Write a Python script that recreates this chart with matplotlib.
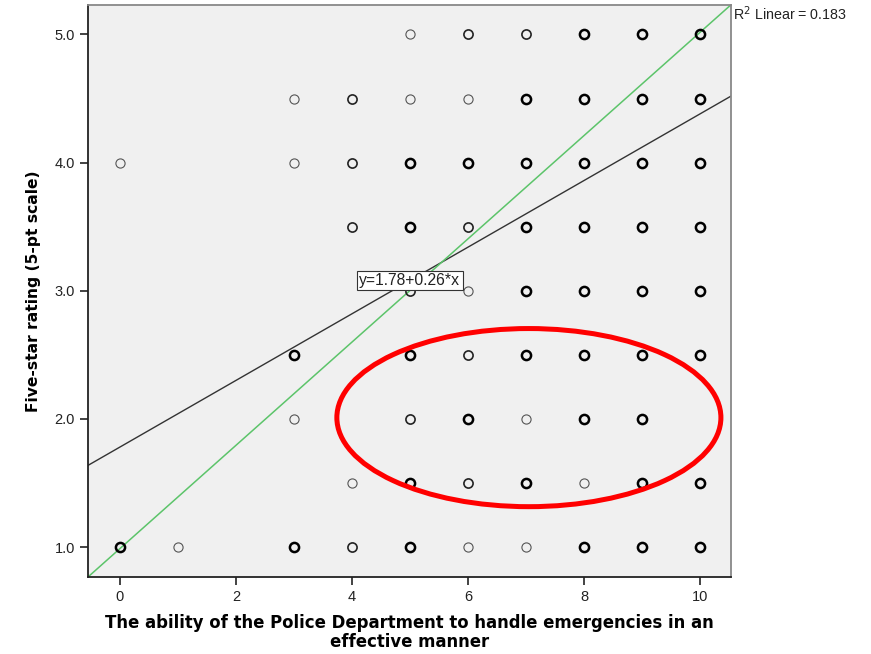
import matplotlib.pyplot as plt
from matplotlib.patches import Ellipse

# emergency handling score (x), five-star rating (y), overlap weight (1 thin .. 3 bold)
x_vals = [5, 6, 7, 8, 9, 10,
          3, 4, 5, 6, 7, 8, 9, 10,
          0, 3, 4, 5, 6, 7, 8, 9, 10,
          4, 5, 6, 7, 8, 9, 10,
          5, 6, 7, 8, 9, 10,
          3, 5, 6, 7, 8, 9, 10,
          3, 5, 6, 7, 8, 9,
          4, 5, 6, 7, 8, 9, 10,
          0, 1, 3, 4, 5, 6, 7, 8, 9, 10]
y_vals = [5.0] * 6 + [4.5] * 8 + [4.0] * 9 + [3.5] * 7 + [3.0] * 6 + \
         [2.5] * 7 + [2.0] * 6 + [1.5] * 7 + [1.0] * 10
weights = [1, 2, 2, 3, 3, 3,
           1, 2, 1, 1, 3, 3, 3, 3,
           1, 1, 2, 3, 3, 3, 3, 3, 3,
           2, 3, 2, 3, 3, 3, 3,
           2, 1, 3, 3, 3, 3,
           3, 3, 2, 3, 3, 3, 3,
           1, 2, 3, 1, 3, 3,
           1, 3, 2, 3, 1, 3, 3,
           3, 1, 3, 2, 3, 1, 1, 3, 3, 3]

intercept = 1.78
slope = 0.26
r2 = 0.183

xmin, xmax = -0.55, 10.53
ymin, ymax = 0.766, 5.23

fig = plt.figure(figsize=(8.71, 6.54), dpi=100)
ax = fig.add_axes([0.101, 0.1177, 0.738, 0.8747])
ax.set_facecolor('#f0f0f0')

# markers, drawn by overlap weight
styles = {1: ('#555555', 0.8), 2: ('#222222', 1.2), 3: ('#000000', 1.8)}
for w, (col, lw) in styles.items():
    xs = [x for x, ww in zip(x_vals, weights) if ww == w]
    ys = [y for y, ww in zip(y_vals, weights) if ww == w]
    ax.plot(xs, ys, 'o', ms=6.6, mfc='none', mec=col, mew=lw, zorder=3)

# fit line
ax.plot([xmin, xmax], [intercept + slope * xmin, intercept + slope * xmax],
        color='#333333', lw=1.0, zorder=2)
# green reference line (diagonal)
ax.plot([0, 1], [0, 1], transform=ax.transAxes, color='#5cc46a', lw=1.1, zorder=2)

ax.text(5.0, 3.08, 'y=1.78+0.26*x', ha='center', va='center', fontsize=11.3,
        family='Liberation Sans', color='#222222', zorder=5,
        bbox=dict(boxstyle='square,pad=0.15', fc='white', ec='#333333', lw=0.8))
ax.text(1.003, 0.985, 'R$^2$ Linear = %.3f' % r2, transform=ax.transAxes,
        ha='left', va='center', fontsize=10.3, family='Liberation Sans',
        color='#222222')

ax.add_patch(Ellipse((7.05, 2.01), 6.62, 1.39, fill=False, ec='#ff0000',
                     lw=3.6, zorder=6))

ax.set_xlim(xmin, xmax)
ax.set_ylim(ymin, ymax)
ax.set_xticks([0, 2, 4, 6, 8, 10])
ax.set_yticks([1.0, 2.0, 3.0, 4.0, 5.0])
ax.set_yticklabels(['%.1f' % v for v in [1.0, 2.0, 3.0, 4.0, 5.0]])
ax.tick_params(direction='out', length=6, width=1.2, color='#222222',
               labelsize=10.5, labelcolor='#222222')
for lab in ax.get_xticklabels() + ax.get_yticklabels():
    lab.set_family('Liberation Sans')

for side in ['left', 'bottom']:
    ax.spines[side].set_color('#222222')
    ax.spines[side].set_linewidth(1.3)
for side in ['top', 'right']:
    ax.spines[side].set_color('#888888')
    ax.spines[side].set_linewidth(1.3)

ax.set_xlabel('The ability of the Police Department to handle emergencies in an\neffective manner',
              fontsize=11.9, fontweight='bold', labelpad=7, linespacing=1.05)
ax.set_ylabel('Five-star rating (5-pt scale)', fontsize=11.2, fontweight='bold',
              labelpad=10)

fig.savefig('out.png', dpi=100)
